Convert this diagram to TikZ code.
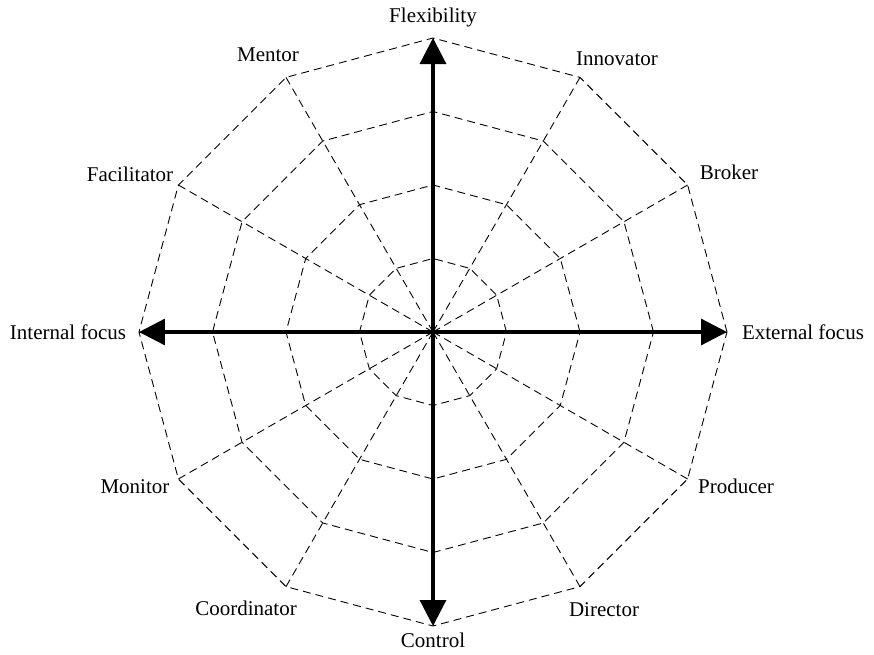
\documentclass[tikz,border=0pt]{standalone}
\usepackage{fontspec}
\setmainfont{Liberation Serif}
\usetikzlibrary{arrows.meta}
\tikzset{
  grid/.style={dash pattern=on 8pt off 5pt, line width=0.9pt},
  axis/.style={line width=3.2pt, -{Triangle[length=26pt,width=26pt]}},
  role/.style={font=\fontsize{21}{25}\selectfont, inner sep=0pt}
}
\begin{document}
\begin{tikzpicture}[x=1pt,y=1pt]
      \useasboundingbox (-433,-322) rectangle (441,332);
      \coordinate (o) at (0,0);
      \foreach \a in {0,30,...,330}
        \coordinate (v\a) at (\a:294);
      \foreach \r in {73.5,147,220.5,294}
        \draw[grid] (0:\r) \foreach \a in {30,60,...,330}{ -- (\a:\r)} -- cycle;
      \foreach \a in {0,30,...,330}
        \draw[grid] (o) -- (v\a);
      \begin{scope}[axis]
        \draw (o) to (v90);
        \draw (o) to (v0);
        \draw (o) to (v270);
        \draw (o) to (v180);
      \end{scope}
      \draw
        (0,315) node[role] (flex){Flexibility}
        (184,273) node[role] (innov){Innovator}
        (296,160) node[role] (broker){Broker}
        (370,0) node[role] (ext){External focus}
        (303,-154) node[role] (prod){Producer}
        (171,-278) node[role] (dir){Director}
        (0,-308) node[role] (ctrl){Control}
        (-187,-276) node[role] (coord){Coordinator}
        (-298,-155) node[role] (mon){Monitor}
        (-365,0) node[role] (int){Internal focus}
        (-303,158) node[role] (facil){Facilitator}
        (-165,277) node[role] (mentor){Mentor};
    \end{tikzpicture}
\end{document}
